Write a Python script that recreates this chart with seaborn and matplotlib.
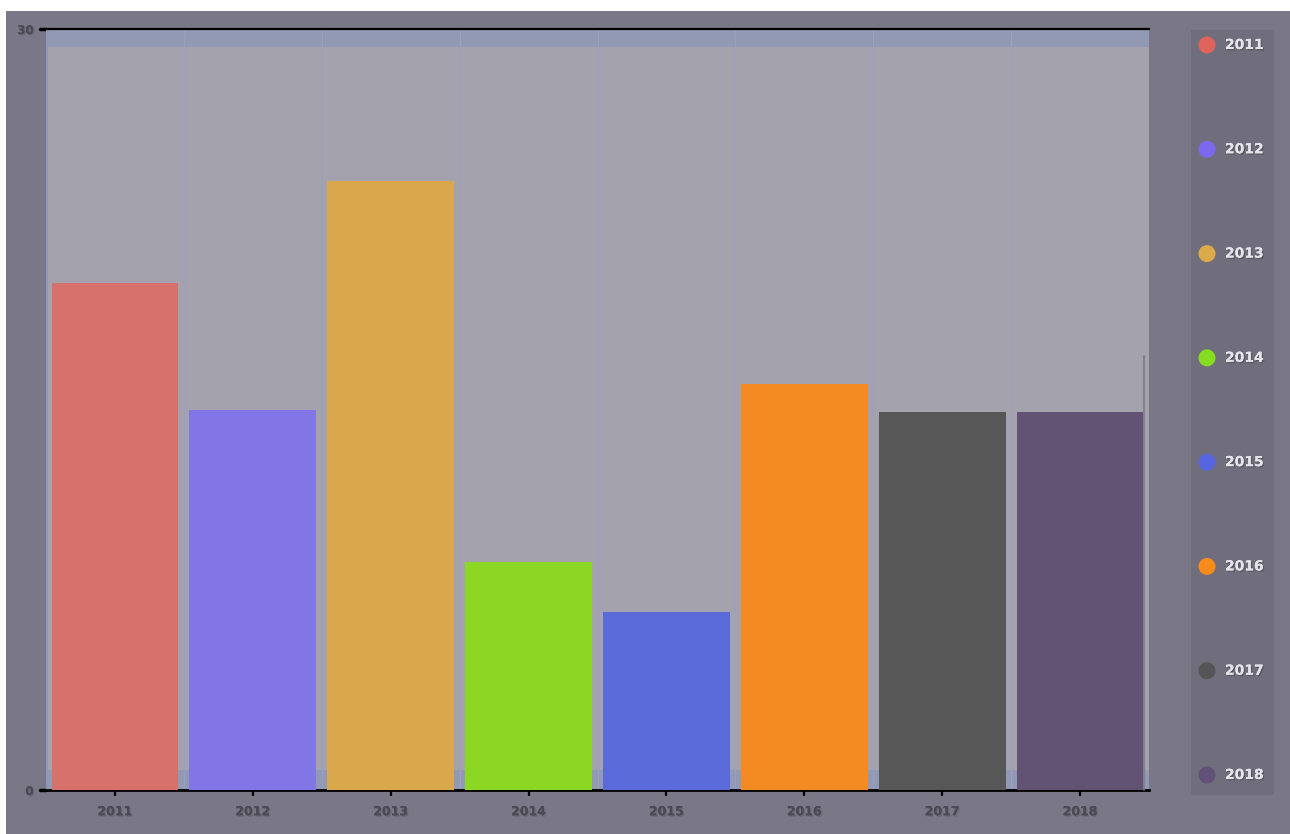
import matplotlib
matplotlib.use("Agg")
import matplotlib.pyplot as plt
import matplotlib.patheffects as pe
from matplotlib.patches import Rectangle
import seaborn as sns
import pandas as pd

# Data
years = ["2011", "2012", "2013", "2014", "2015", "2016", "2017", "2018"]
values = [20, 15, 24, 9, 7, 16, 14.9, 14.9]
bar_colors = ["#d6716c", "#8275e6", "#d9a84c", "#8cd724",
              "#5a6bd9", "#f48b22", "#575757", "#625274"]
legend_colors = ["#e0645c", "#7b68ee", "#dcaa48", "#86dc1e",
                 "#5566e0", "#f98a1c", "#555555", "#635076"]
y_ticks = [0, 30]

sns.set_theme(style="white")
plt.rcParams["font.family"] = ["DejaVu Sans"]

outer_bg = "#7a7886"
plot_bg = "#a4a3ad"
W, H = 1290, 834
fig = plt.figure(figsize=(W / 100, H / 100), dpi=100, facecolor=outer_bg)

# white strip along the top and left edge of the canvas
fig.patches.append(Rectangle((0, 1 - 11 / H), 1, 11 / H, transform=fig.transFigure,
                             facecolor="white", edgecolor="none", zorder=0))
fig.patches.append(Rectangle((0, 0), 6 / W, 1, transform=fig.transFigure,
                             facecolor="white", edgecolor="none", zorder=0))

def frac(x0, y0, x1, y1):
    return [x0 / W, 1 - y1 / H, (x1 - x0) / W, (y1 - y0) / H]

ax = fig.add_axes(frac(46, 29, 1149, 790))
ax.set_facecolor(plot_bg)

df = pd.DataFrame({"year": years, "value": values})
sns.barplot(data=df, x="year", y="value", hue="year", palette=bar_colors,
            width=0.92, legend=False, saturation=1, linewidth=0,
            edgecolor="none", ax=ax, zorder=3)

ax.set_ylim(0, 30)
ax.set_xlim(-0.5, len(years) - 0.5)

# thin bands at the top and bottom of the value range
ax.axhspan(29.3, 30, color="#8e98b6", alpha=0.85, zorder=1, lw=0)
ax.axhspan(0, 0.8, color="#8e98b6", alpha=0.85, zorder=1, lw=0)

# vertical separators between categories
for i in range(1, len(years)):
    ax.axvline(i - 0.5, color="#9aa0c2", lw=0.9, zorder=2)

for s in ["left", "right"]:
    ax.spines[s].set_visible(False)
ax.spines["top"].set_color("black")
ax.spines["top"].set_linewidth(1.6)
ax.spines["bottom"].set_color("black")
ax.spines["bottom"].set_linewidth(2)
ax.plot([-0.545, -0.5], [30, 30], color="black", lw=2.5, clip_on=False)
ax.plot([-0.545, -0.5], [0, 0], color="black", lw=2.5, clip_on=False)
ax.axvline(-0.5, color="#8e98b6", lw=2, zorder=2)

ax.set_yticks(y_ticks)
ax.set_yticklabels([str(t) for t in y_ticks])
ax.tick_params(axis="y", length=0, pad=9, labelsize=8.5, labelcolor="#4a4954")
ax.tick_params(axis="x", length=4, width=1.6, color="black", direction="out",
               bottom=True, pad=7, labelsize=9, labelcolor="#4a4954")
for lab in ax.get_xticklabels() + ax.get_yticklabels():
    lab.set_fontweight("bold")
    lab.set_path_effects([pe.withSimplePatchShadow(offset=(1, -1), alpha=0.15),
                          pe.Normal()])
ax.set_xlabel("")
ax.set_ylabel("")

# partial right border beside the last bar
ax.plot([len(years) - 0.5 - 0.035] * 2, [0, 17.1], color="#7d7a88", lw=1.2,
        zorder=4, clip_on=False)

# legend panel
lax = fig.add_axes(frac(1191, 30, 1274, 795))
lax.set_facecolor("#706e7c")
lax.set_xlim(0, 83)
n = len(years)
step = (775 - 45) / (n - 1)
lax.set_ylim(n - 1 + 20 / step, -15 / step)
leg_df = pd.DataFrame({"x": [16] * n, "y": list(range(n)), "year": years})
sns.scatterplot(data=leg_df, x="x", y="y", hue="year", palette=legend_colors,
                s=150, edgecolor="none", legend=False, ax=lax, zorder=3,
                clip_on=False)
for i, yr in enumerate(years):
    lax.text(34, i, yr, color="#e4e4ea", fontsize=10, fontweight="bold",
             va="center", ha="left",
             path_effects=[pe.withSimplePatchShadow(offset=(1, -1), alpha=0.5),
                           pe.Normal()])
lax.set_xticks([])
lax.set_yticks([])
lax.set_xlabel("")
lax.set_ylabel("")
for s in lax.spines.values():
    s.set_visible(False)

fig.savefig("out.png", dpi=100, facecolor=outer_bg)
